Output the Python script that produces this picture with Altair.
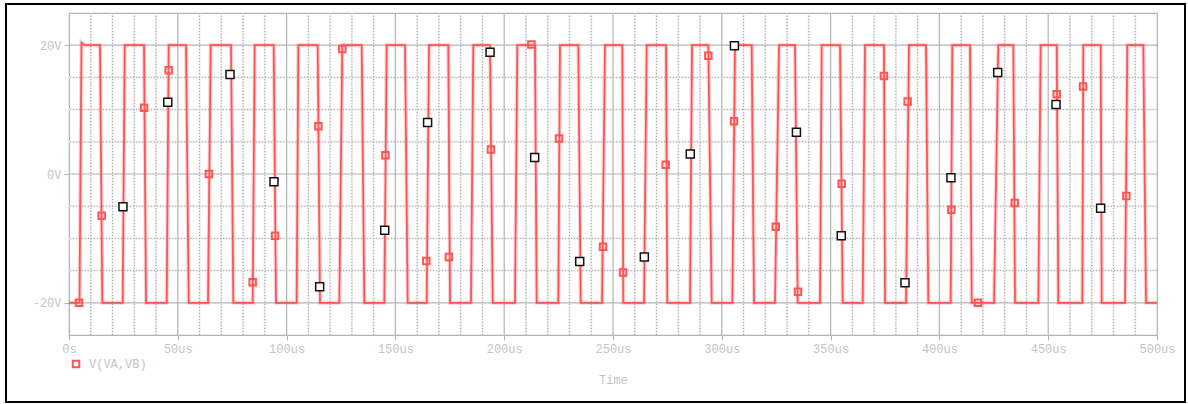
import altair as alt
import pandas as pd

# Transient trace V(VA,VB): vertex times (us) and levels (V)
trace_t = [0, 4.83, 5.74, 7.3, 14.25, 15.30, 24.68, 25.60, 34.47, 35.39, 44.90, 45.82,
           53.77, 55.01, 63.88, 65.12, 74.45, 75.51, 84.42, 85.34, 94.07, 95.13,
           104.64, 105.38, 114.29, 115.35, 124.22, 125.60, 134.51, 135.71, 144.90, 146.00,
           154.41, 155.65, 164.38, 165.44, 174.31, 175.09, 184.74, 185.80, 193.48, 194.72,
           204.96, 206.02, 214.15, 214.93, 224.86, 225.64, 234.05, 235.15, 244.95, 246.32,
           254.27, 254.73, 264.25, 265.49, 274.36, 274.95, 285.39, 286.31, 293.80, 295.36,
           304.83, 306.07, 313.74, 314.80, 324.45, 326.29, 333.64, 334.88, 345.13, 345.91,
           354.32, 355.56, 364.75, 365.81, 374.54, 375.00, 384.65, 386.03, 393.84, 394.90,
           405.19, 405.93, 414.06, 414.85, 425.09, 427.07, 433.96, 434.75, 445.45, 446.55,
           453.91, 454.64, 465.67, 466.13, 474.13, 474.59, 485.30, 486.36, 493.71, 494.95,
           500]
trace_v = [-20, -20, 20.4, 20, 20, -20, -20, 20, 20, -20, -20, 20,
           20, -20, -20, 20, 20, -20, -20, 20, 20, -20,
           -20, 20, 20, -20, -20, 20, 20, -20, -20, 20,
           20, -20, -20, 20, 20, -20, -20, 20, 20, -20,
           -20, 20, 20, -20, -20, 20, 20, -20, -20, 20,
           20, -20, -20, 20, 20, -20, -20, 20, 20, -20,
           -20, 20, 20, -20, -20, 20, 20, -20, -20, 20,
           20, -20, -20, 20, 20, -20, -20, 20, 20, -20,
           -20, 20, 20, -20, -20, 20, 20, -20, -20, 20,
           20, -20, -20, 20, 20, -20, -20, 20, 20, -20,
           -20]

# Trace symbols (red) along V(VA,VB)
red_t = [4.6, 15.0, 34.5, 45.8, 64.3, 84.4, 94.7, 114.6, 125.6, 145.4, 164.2, 174.6,
         193.9, 212.5, 225.2, 245.4, 254.6, 274.2, 293.8, 305.6, 324.8, 335.0, 355.1,
         374.5, 385.4, 405.5, 417.7, 434.6, 453.9, 466.0, 485.9]
red_v = [-20, -6.5, 10.3, 16.1, 0, -16.8, -9.6, 7.4, 19.4, 2.9, -13.5, -12.9,
         3.8, 20.1, 5.5, -11.3, -15.3, 1.45, 18.35, 8.2, -8.2, -18.3, -1.5,
         15.2, 11.25, -5.55, -20, -4.5, 12.4, 13.6, -3.4]

# Black cursor symbols on the same trace
blk_t = [24.8, 45.4, 74.0, 94.2, 115.2, 145.1, 164.8, 193.5, 214.0, 234.7, 264.4,
         285.5, 305.8, 334.3, 354.9, 384.2, 405.3, 426.8, 453.6, 474.1]
blk_v = [-5.1, 11.15, 15.45, -1.2, -17.5, -8.75, 8.0, 18.9, 2.55, -13.6, -12.9,
         3.1, 19.9, 6.5, -9.6, -16.9, -0.6, 15.75, 10.8, -5.3]

x_ticks = [0, 50, 100, 150, 200, 250, 300, 350, 400, 450, 500]
x_major = [50, 100, 150, 200, 250, 300, 350, 400, 450]
x_minor = [t for t in range(10, 500, 10) if t % 50 != 0]
y_ticks = [-20, 0, 20]
y_minor = [-15, -10, -5, 5, 10, 15]

series_name = "V(VA,VB)"
RED = "#ff5555"
GRID = "#b4b4b4"
TEXT = "#c4c4c4"
FONT = "Liberation Mono"

xs = alt.Scale(domain=[0, 500], nice=False, zero=False)
ys = alt.Scale(domain=[-25, 25], nice=False, zero=False)

trace_df = pd.DataFrame({"t": trace_t, "v": trace_v, "order": range(len(trace_t))})
red_df = pd.DataFrame({"t": red_t, "v": red_v, "series": series_name})
blk_df = pd.DataFrame({"t": blk_t, "v": blk_v})

x_axis = alt.Axis(values=x_ticks, labelExpr="datum.value == 0 ? '0s' : datum.value + 'us'",
                  grid=False, title="Time", labelFont=FONT, labelFontSize=12,
                  labelColor=TEXT, titleFont=FONT, titleFontSize=12, titleColor=TEXT,
                  titleFontWeight="normal", titlePadding=20, labelPadding=3,
                  domainColor=GRID, tickColor=GRID, tickSize=5, labelFlush=False,
                  labelOverlap=False)
y_axis = alt.Axis(values=y_ticks, labelExpr="datum.value + 'V'", grid=False, title=None,
                  labelFont=FONT, labelFontSize=12, labelColor=TEXT, labelPadding=3,
                  domainColor=GRID, tickColor=GRID, tickSize=5)

# Grid lines
minor_x_soft = alt.Chart(pd.DataFrame({"t": x_minor})).mark_rule(
    color="#ececec", strokeWidth=2).encode(x=alt.X("t:Q", scale=xs, axis=x_axis))
minor_x = alt.Chart(pd.DataFrame({"t": x_minor})).mark_rule(
    color="#a8a8a8", strokeWidth=1, strokeDash=[1, 2]).encode(x=alt.X("t:Q", scale=xs))
major_x = alt.Chart(pd.DataFrame({"t": x_major})).mark_rule(
    color=GRID, strokeWidth=1.2).encode(x=alt.X("t:Q", scale=xs))
minor_y_soft = alt.Chart(pd.DataFrame({"v": y_minor})).mark_rule(
    color="#ececec", strokeWidth=2).encode(y=alt.Y("v:Q", scale=ys, axis=y_axis))
minor_y = alt.Chart(pd.DataFrame({"v": y_minor})).mark_rule(
    color="#a8a8a8", strokeWidth=1, strokeDash=[1, 2]).encode(y=alt.Y("v:Q", scale=ys))
major_y = alt.Chart(pd.DataFrame({"v": y_ticks})).mark_rule(
    color=GRID, strokeWidth=1.2).encode(y=alt.Y("v:Q", scale=ys))

# Waveform with a faint halo
halo = alt.Chart(trace_df).mark_line(color=RED, strokeWidth=4, opacity=0.25).encode(
    x=alt.X("t:Q", scale=xs), y=alt.Y("v:Q", scale=ys), order="order:Q")
line = alt.Chart(trace_df).mark_line(color=RED, strokeWidth=1.8).encode(
    x=alt.X("t:Q", scale=xs), y=alt.Y("v:Q", scale=ys), order="order:Q")

red_pts = alt.Chart(red_df).mark_point(shape="square", filled=False, size=42,
                                        strokeWidth=2, opacity=1).encode(
    x=alt.X("t:Q", scale=xs), y=alt.Y("v:Q", scale=ys),
    color=alt.Color("series:N", scale=alt.Scale(range=[RED]),
                    legend=alt.Legend(orient="none", legendX=1, legendY=345, title=None,
                                      symbolType="square", symbolSize=42,
                                      symbolStrokeWidth=2, symbolFillColor="white",
                                      labelFont=FONT, labelFontSize=12, labelColor=TEXT,
                                      labelOffset=7, padding=0)))
blk_pts = alt.Chart(blk_df).mark_point(shape="square", filled=True, fill="white",
                                        stroke="#111111", size=64, strokeWidth=1.5,
                                        opacity=1).encode(
    x=alt.X("t:Q", scale=xs), y=alt.Y("v:Q", scale=ys))

# Outer window frame
frame = alt.Chart(pd.DataFrame({"k": [0]})).mark_rect(
    filled=False, stroke="#000000", strokeWidth=2).encode(
    x=alt.value(-63), x2=alt.value(1116), y=alt.value(-9), y2=alt.value(389))

chart = alt.layer(minor_x_soft, minor_y_soft, minor_x, minor_y, major_x, major_y,
                  halo, line, red_pts, blk_pts, frame).properties(
    width=1088, height=322,
    autosize=alt.AutoSizeParams(type="none"),
    padding={"left": 69, "top": 13, "right": 31, "bottom": 69},
    background="white",
).configure_view(stroke=GRID, strokeWidth=1.2)

chart.save("out.html", embed_options={"renderer": "svg", "actions": False})
